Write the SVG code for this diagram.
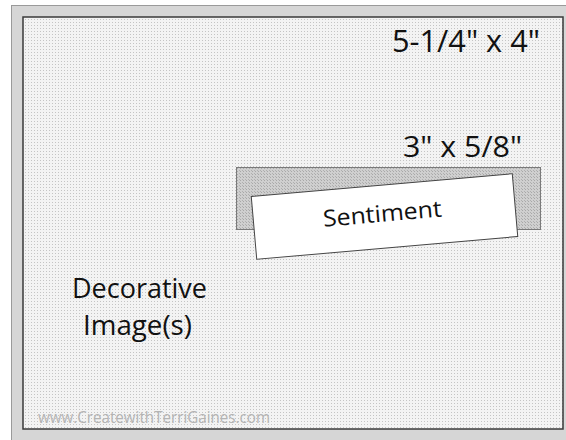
<svg xmlns="http://www.w3.org/2000/svg" width="566" height="440" viewBox="0 0 566 440">
<defs>
<pattern id="dots" width="3" height="3" patternUnits="userSpaceOnUse">
<rect width="3" height="3" fill="#f3f3f3"/>
<rect x="1" y="1" width="1" height="1" fill="#c4c4c4"/>
</pattern>
<pattern id="hatch" width="3" height="3" patternUnits="userSpaceOnUse">
<rect width="3" height="3" fill="#cfcfcf"/>
<rect x="0" y="0" width="1" height="1" fill="#a8a8a8"/>
<rect x="2" y="2" width="1" height="1" fill="#b0b0b0"/>
</pattern>
<style>
.t{font-family:"Open Sans","Noto Sans","Liberation Sans",sans-serif;fill:#111}
.wm{font-family:"Open Sans","Noto Sans","Liberation Sans",sans-serif;fill:#b4b4b4;font-size:17px}
</style>
</defs>
<rect width="566" height="440" fill="#ffffff"/>
<g id="card-base">
<rect x="11.5" y="5.5" width="560" height="440" fill="#d6d6d6" stroke="#9a9a9a" stroke-width="1"/>
</g>
<g id="card-front">
<rect x="23" y="17" width="540" height="412" fill="url(#dots)" stroke="#3a3a3a" stroke-width="1.5"/>
<text class="t" x="392" y="52" font-size="31" textLength="148" lengthAdjust="spacingAndGlyphs">5-1/4" x 4"</text>
</g>
<g id="sentiment-mat">
<rect x="236.5" y="167.5" width="304" height="62" fill="url(#hatch)" stroke="#7a7a7a" stroke-width="1"/>
<text class="t" x="403" y="157" font-size="30" textLength="119" lengthAdjust="spacingAndGlyphs">3" x 5/8"</text>
</g>
<g id="sentiment" transform="translate(384.5 216.5) rotate(-5)">
<rect x="-131" y="-31.5" width="262" height="63" fill="#ffffff" stroke="#444" stroke-width="1"/>
<text class="t" x="-2" y="5" font-size="23" text-anchor="middle" textLength="119" lengthAdjust="spacingAndGlyphs">Sentiment</text>
</g>
<g id="decorative-image">
<text class="t" x="139.5" y="298" font-size="28" text-anchor="middle" textLength="135" lengthAdjust="spacingAndGlyphs">Decorative</text>
<text class="t" x="137.5" y="335" font-size="28" text-anchor="middle" textLength="109" lengthAdjust="spacingAndGlyphs">Image(s)</text>
</g>
<g id="watermark">
<text class="wm" x="38" y="423" textLength="232" lengthAdjust="spacingAndGlyphs">www.CreatewithTerriGaines.com</text>
</g>
<g id="connectors"></g>
</svg>
